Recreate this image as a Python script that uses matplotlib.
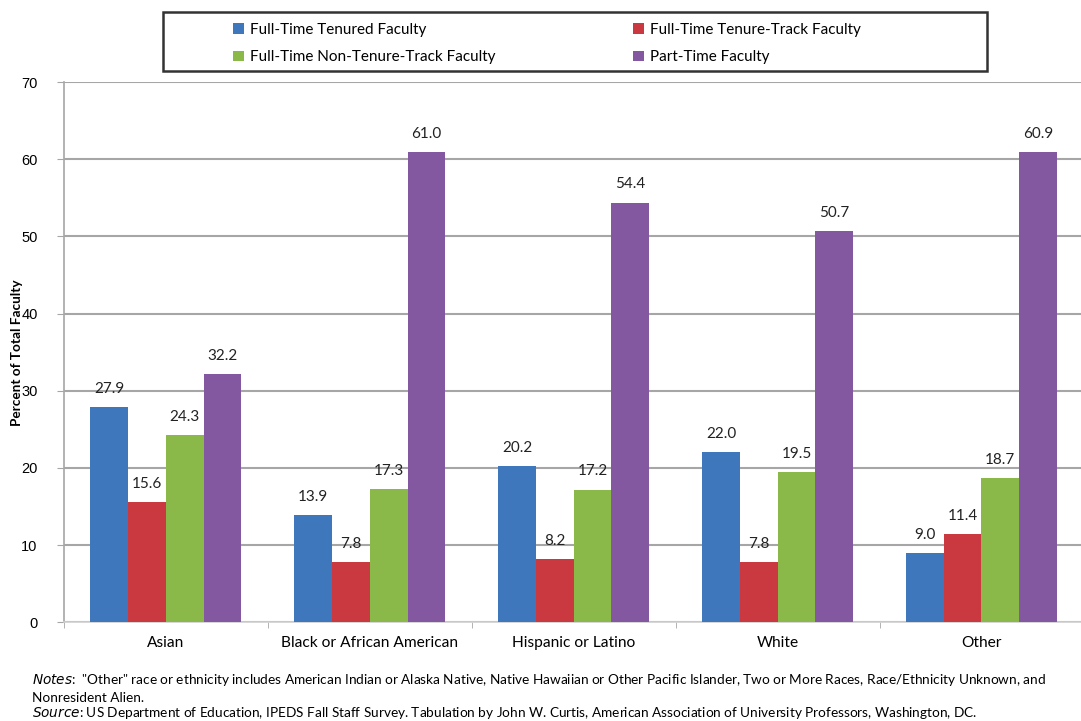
import numpy as np
import matplotlib.pyplot as plt
from matplotlib.patches import Rectangle

# data
categories = ['Asian', 'Black or African American', 'Hispanic or Latino', 'White', 'Other']
series_names = ['Full-Time Tenured Faculty', 'Full-Time Tenure-Track Faculty',
                'Full-Time Non-Tenure-Track Faculty', 'Part-Time Faculty']
tenured = [27.9, 13.9, 20.2, 22.0, 9.0]
tenure_track = [15.6, 7.8, 8.2, 7.8, 11.4]
non_tenure_track = [24.3, 17.3, 17.2, 19.5, 18.7]
part_time = [32.2, 61.0, 54.4, 50.7, 60.9]
yticks = [0, 10, 20, 30, 40, 50, 60, 70]

colors = ['#3F77BC', '#C9393F', '#8AB94A', '#8358A1']
plt.rcParams['font.family'] = ['Lato', 'DejaVu Sans']

fig = plt.figure(figsize=(10.81, 7.21), dpi=100)
ax = fig.add_axes([0.0592, 0.137, 0.943, 0.749])

x = np.arange(len(categories))
width = 0.185
series = [tenured, tenure_track, non_tenure_track, part_time]
bars = []
for i, vals in enumerate(series):
    b = ax.bar(x + (i - 1.5) * width, vals, width, color=colors[i],
               label=series_names[i], zorder=3, linewidth=0)
    bars.append(b)
    for xi, v in zip(x + (i - 1.5) * width, vals):
        ax.annotate('%.1f' % v, (xi, v), xytext=(0, 8), textcoords='offset points',
                    ha='center', va='bottom', fontsize=11, color='#222222')

ax.set_ylim(0, 70)
ax.set_xlim(-0.5, len(categories) - 0.5)
ax.set_yticks(yticks)
ax.set_yticklabels([str(t) for t in yticks], family='Liberation Sans', fontsize=10.5)
ax.yaxis.grid(True, color='#A6A6A6', linewidth=1.5, zorder=0)
ax.set_axisbelow(True)

ax.set_xticks(x)
ax.set_xticklabels(categories, fontsize=11.2)
ax.tick_params(axis='x', length=0, pad=10)
ax.set_xticks(np.arange(len(categories) + 1) - 0.5, minor=True)
ax.tick_params(axis='x', which='minor', length=4, color='#A6A6A6')
ax.tick_params(axis='y', length=5, color='#A6A6A6', pad=14)

for s in ['top', 'right']:
    ax.spines[s].set_visible(False)
ax.spines['left'].set_color('#A6A6A6')
ax.spines['left'].set_linewidth(1.2)
ax.spines['bottom'].set_color('#D0D0D0')
ax.spines['bottom'].set_linewidth(1.2)

ax.set_ylabel('Percent of Total Faculty', fontsize=9.8, fontweight='bold')
ax.yaxis.set_label_coords(-0.04, 0.5)

# legend: boxed, two columns, row-wise order
fig.add_artist(Rectangle((163 / 1081, 1 - 71 / 721), 824 / 1081, 59 / 721,
                         transform=fig.transFigure, fill=False, ec='#333333', lw=1.8))
for col, idx in enumerate([(0, 2), (1, 3)]):
    xpos = [233 / 1081, 633 / 1081][col]
    leg = fig.legend([bars[k] for k in idx], [series_names[k] for k in idx],
                     loc='center left', bbox_to_anchor=(xpos, 1 - 43.5 / 721),
                     fontsize=11, frameon=False, handlelength=0.7, handleheight=0.7,
                     handletextpad=0.4, borderpad=0, labelspacing=0.9, borderaxespad=0)

fig.text(32 / 1081, 1 - 680 / 721,
         r'$\it{Notes}$:  "Other" race or ethnicity includes American Indian or Alaska Native, '
         'Native Hawaiian or Other Pacific Islander, Two or More Races, Race/Ethnicity Unknown, and',
         fontsize=9.8, va='center')
fig.text(32 / 1081, 1 - 698 / 721, 'Nonresident Alien.', fontsize=9.8, va='center')
fig.text(32 / 1081, 1 - 713 / 721,
         r'$\it{Source}$: US Department of Education, IPEDS Fall Staff Survey. Tabulation by John W. Curtis, '
         'American Association of University Professors, Washington, DC.',
         fontsize=9.8, va='center')

fig.savefig('out.png', dpi=100)
